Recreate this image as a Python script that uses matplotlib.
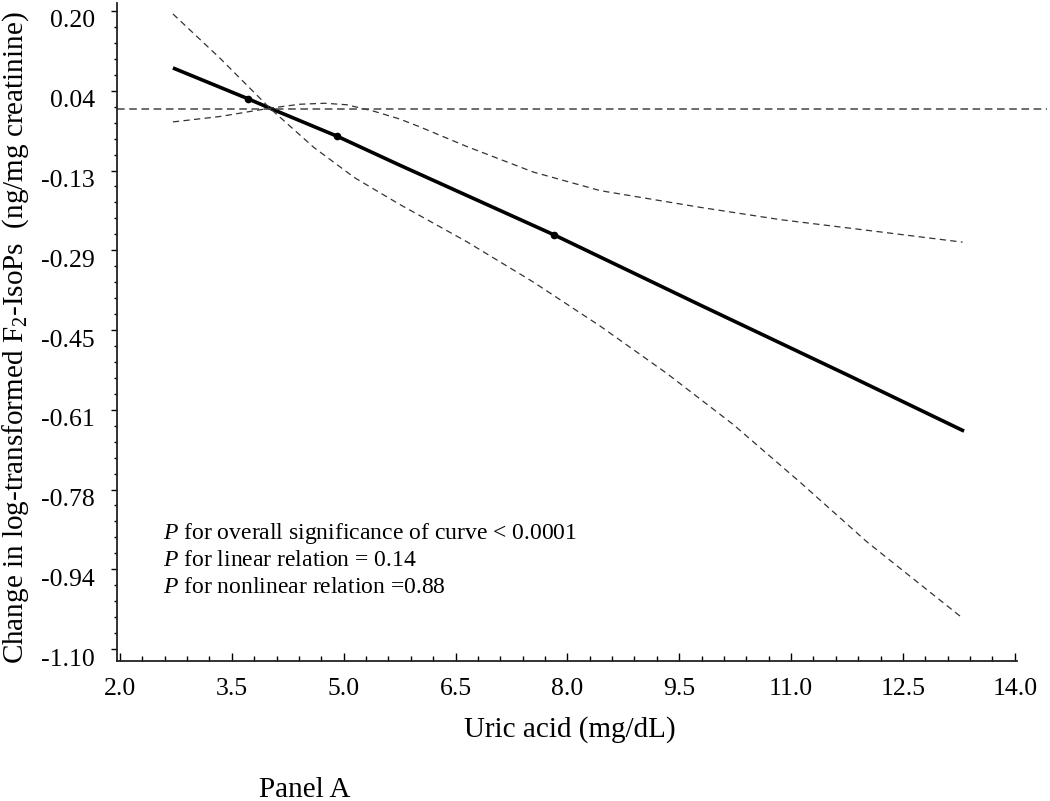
import matplotlib
matplotlib.use('Agg')
import matplotlib.pyplot as plt
import matplotlib.transforms as mtransforms
from matplotlib.ticker import AutoMinorLocator, FixedLocator, FixedFormatter
import numpy as np

plt.rcParams['font.family'] = ['Liberation Serif', 'DejaVu Serif']
plt.rcParams['mathtext.fontset'] = 'custom'
plt.rcParams['mathtext.rm'] = 'Liberation Serif'
plt.rcParams['mathtext.it'] = 'Liberation Serif:italic'

# Fitted spline (solid) and its knots.
uric_fit = [2.71, 3.72, 4.01, 4.91, 5.75, 7.82, 9.78, 11.79, 13.32]
change_fit = [0.084, 0.021, 0.002, -0.055, -0.114, -0.256, -0.399, -0.544, -0.656]
knot_x = [3.72, 4.91, 7.82]
knot_y = [0.021, -0.055, -0.256]

# Confidence limits (dashed).
ci_a_x = [2.71, 3.34, 4.01, 4.41, 4.75, 5.04, 5.40, 5.75, 6.02, 6.65, 7.54, 8.44, 9.78, 10.85, 12.19, 13.30]
ci_a_y = [-0.026, -0.015, 0.002, 0.010, 0.012, 0.009, -0.004, -0.020, -0.036, -0.076, -0.128, -0.166, -0.200, -0.225, -0.250, -0.271]
ci_b_x = [2.71, 3.34, 4.01, 4.60, 5.15, 5.75, 6.65, 7.54, 8.44, 9.33, 10.22, 11.12, 12.02, 13.30]
ci_b_y = [0.194, 0.104, 0.002, -0.078, -0.140, -0.194, -0.270, -0.352, -0.442, -0.538, -0.642, -0.760, -0.882, -1.037]
reference_y = 0.0

x_ticks = [2.0, 3.5, 5.0, 6.5, 8.0, 9.5, 11.0, 12.5, 14.0]
x_labels = ['2.0', '3.5', '5.0', '6.5', '8.0', '9.5', '11.0', '12.5', '14.0']
y_ticks = list(np.linspace(-1.1, 0.2, 9))
y_labels = ['-1.10', '-0.94', '-0.78', '-0.61', '-0.45', '-0.29', '-0.13', '0.04', '0.20']

notes = [r'$P$ for overall significance of curve < 0.0001',
         r'$P$ for linear relation = 0.14',
         r'$P$ for nonlinear relation =0.88']


fig = plt.figure(figsize=(10.5, 8.01), dpi=100)
ax = fig.add_axes([117/1050, 1 - 661/801, 900/1050, 658/801])

ax.plot(uric_fit, change_fit, color='black', lw=2.6, solid_capstyle='butt')
ax.plot(knot_x, knot_y, 'o', color='black', ms=4.5)
ax.plot(ci_a_x, ci_a_y, color='#333333', lw=0.9, dashes=(5, 3.5))
ax.plot(ci_b_x, ci_b_y, color='#333333', lw=0.9, dashes=(5, 3.5))
ax.plot([1.96, 14.43], [reference_y, reference_y], color='#444444', lw=1.1,
        dashes=(5, 3), clip_on=False)

ax.set_xlim(1.96, 14.03)
ax.set_ylim(-1.1244, 0.2163)

for side in ('top', 'right'):
    ax.spines[side].set_visible(False)
for side in ('left', 'bottom'):
    ax.spines[side].set_linewidth(1.3)
    ax.spines[side].set_color('#222222')

ax.xaxis.set_major_locator(FixedLocator(x_ticks))
ax.xaxis.set_major_formatter(FixedFormatter(x_labels))
ax.yaxis.set_major_locator(FixedLocator(y_ticks))
ax.yaxis.set_major_formatter(FixedFormatter(y_labels))
ax.xaxis.set_minor_locator(AutoMinorLocator(5))
ax.yaxis.set_minor_locator(AutoMinorLocator(5))

ax.tick_params(axis='x', which='major', direction='in', length=6, width=1, pad=12, labelsize=18.5)
ax.tick_params(axis='x', which='minor', direction='in', length=3.5, width=1)
ax.tick_params(axis='y', which='major', direction='out', length=4, width=1, pad=12, labelsize=18.5)
ax.tick_params(axis='y', which='minor', direction='out', length=2.5, width=1)

# SAS puts the y labels a little below their ticks.
shift = mtransforms.ScaledTranslation(0, -0.08, fig.dpi_scale_trans)
for lab in ax.get_yticklabels():
    lab.set_transform(lab.get_transform() + shift)

ax.set_xlabel('Uric acid (mg/dL)', fontsize=21, va='baseline')
ax.xaxis.set_label_coords(0.503, -0.1155)
ax.set_ylabel('Change in log-transformed F$_2$-IsoPs  (ng/mg creatinine)', fontsize=21, va='center')
ax.yaxis.set_label_coords(-0.113, 0.491)

for i, note in enumerate(notes):
    ax.text(0.051, 0.1854 - i * 0.041, note, transform=ax.transAxes,
            fontsize=17, ha='left', va='baseline')

fig.text(305/1050, 0.005, 'Panel A', fontsize=21, ha='center', va='baseline')

fig.savefig('out.png', dpi=100)
